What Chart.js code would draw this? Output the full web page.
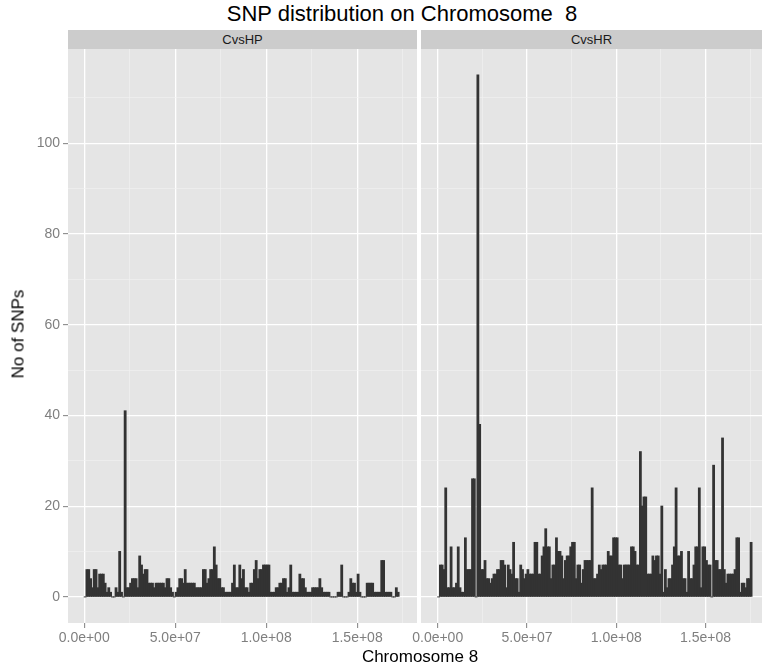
<!DOCTYPE html>
<html>
<head>
<meta charset="utf-8">
<script src="https://cdn.jsdelivr.net/npm/chart.js@4.4.1/dist/chart.umd.min.js"></script>
<style>
body { margin: 0; background: #fff; }
#page { position: relative; width: 762px; height: 672px; overflow: hidden; font-family: "Liberation Sans", Arial, sans-serif; }
#page canvas { position: absolute; left: 0; top: 0; }
.lbl { position: absolute; white-space: pre; color: #000; }
#title { left: 0; width: 804px; top: 2px; font-size: 22px; line-height: 24px; text-align: center; }
.strip { position: absolute; top: 30px; height: 19px; background: #cccccc; font-size: 13px; line-height: 19px; text-align: center; color: #1a1a1a; }
#xtitle { left: 0; width: 840px; top: 647px; font-size: 17px; line-height: 19px; text-align: center; }
#ytitle { left: 18px; top: 334px; font-size: 17px; line-height: 19px; transform: translate(-50%, -50%) rotate(-90deg); }
</style>
</head>
<body>
<div id="page">
  <div id="title" class="lbl">SNP distribution on Chromosome  8</div>
  <div class="strip" style="left:68px; width:349px;">CvsHP</div>
  <div class="strip" style="left:421px; width:341px;">CvsHR</div>
  <canvas id="hp" width="762" height="672"></canvas>
  <canvas id="hr" width="762" height="672"></canvas>
  <div id="xtitle" class="lbl">Chromosome 8</div>
  <div id="ytitle" class="lbl">No of SNPs</div>
</div>
<script>
// SNP counts per 1 Mb bin along chromosome 8
var binWidth = 1e6;

var hpCounts = [0,6,6,4,2,6,6,2,5,5,5,3,1,2,1,0,0,2,1,10,1,0,41,2,2,3,4,4,4,2,
  9,7,5,6,6,3,3,3,2,3,3,3,3,3,2,4,4,2,1,0,1,2,4,4,3,6,3,3,3,3,
  3,2,2,2,2,6,6,3,4,6,6,11,7,4,4,2,2,1,1,1,1,3,7,2,2,7,4,6,2,2,
  1,3,3,6,8,4,6,6,7,7,7,7,1,1,1,2,2,3,3,4,4,1,2,7,1,1,1,1,5,4,
  4,2,1,1,1,2,2,2,2,4,2,1,1,1,1,0,0,0,0,1,1,7,0,0,0,1,4,3,3,1,
  5,1,0,0,0,3,3,3,3,1,1,1,1,8,8,1,1,1,1,0,0,2,1];

var hrCounts = [0,7,7,6,24,2,2,11,2,2,3,11,2,1,1,13,6,6,6,26,26,0,115,38,6,6,8,4,4,3,
  4,5,5,6,6,8,8,7,2,7,6,5,12,4,4,1,7,6,4,5,6,5,5,5,12,12,5,5,9,11,
  15,11,11,4,7,7,13,10,10,9,4,8,9,9,11,12,12,4,7,7,3,6,8,8,8,8,24,4,4,5,
  7,6,7,7,7,10,9,9,13,13,13,7,7,4,7,7,7,7,11,11,10,7,7,32,20,22,22,5,5,5,
  9,8,9,9,5,20,1,6,2,4,4,7,11,24,9,9,10,4,4,1,10,4,4,7,11,11,24,2,11,11,
  8,7,7,0,29,8,8,6,6,35,6,3,5,5,5,5,6,13,13,1,3,3,2,4,4,12];

var xMajor = [0, 5e7, 1e8, 1.5e8];
var xMajorLabels = ['0.0e+00', '5.0e+07', '1.0e+08', '1.5e+08'];
var xMinor = [2.5e7, 7.5e7, 1.25e8, 1.75e8];
var yMajor = [0, 20, 40, 60, 80, 100];
var yMinor = [10, 30, 50, 70, 90, 110];

var axisGrey = '#7f7f7f';
var fontFamily = "'Liberation Sans', Arial, sans-serif";

function toPoints(counts) {
  return counts.map(function (c, i) { return { x: i * binWidth + binWidth / 2, y: c }; });
}

function isIn(list, v) { return list.indexOf(v) !== -1; }

// grey panel background like ggplot
var panelBg = {
  id: 'panelBg',
  beforeDraw: function (chart) {
    var a = chart.chartArea, ctx = chart.ctx;
    ctx.save();
    ctx.fillStyle = '#e5e5e5';
    ctx.fillRect(a.left, a.top, a.right - a.left, a.bottom - a.top);
    ctx.restore();
  }
};

function makePanel(id, counts, o) {
  return new Chart(document.getElementById(id), {
    type: 'bar',
    data: {
      datasets: [{
        data: toPoints(counts),
        backgroundColor: '#333333',
        borderWidth: 0,
        inflateAmount: 0.5,
        barPercentage: 1,
        categoryPercentage: 1
      }]
    },
    options: {
      responsive: false,
      animation: false,
      layout: { padding: { left: o.padLeft, right: o.padRight, top: 49, bottom: 0 } },
      plugins: { legend: { display: false }, tooltip: { enabled: false } },
      scales: {
        x: {
          type: 'linear',
          offset: false,
          min: o.xMin,
          max: o.xMax,
          afterBuildTicks: function (s) {
            s.ticks = xMajor.concat(xMinor).sort(function (a, b) { return a - b; })
              .map(function (v) { return { value: v }; });
          },
          afterFit: function (s) { s.height = 49; },
          border: { display: false },
          grid: {
            offset: false,
            color: function (c) { return c.tick && isIn(xMajor, c.tick.value) ? '#ffffff' : '#f2f2f2'; },
            lineWidth: function (c) { return c.tick && isIn(xMajor, c.tick.value) ? 1.3 : 0.6; },
            tickColor: function (c) { return c.tick && isIn(xMajor, c.tick.value) ? axisGrey : 'rgba(0,0,0,0)'; },
            tickLength: 5,
            tickWidth: 1
          },
          ticks: {
            autoSkip: false,
            maxRotation: 0,
            padding: 2,
            color: axisGrey,
            font: { family: fontFamily, size: 14 },
            callback: function (v) {
              var k = xMajor.indexOf(v);
              return k === -1 ? '' : xMajorLabels[k];
            }
          }
        },
        y: {
          min: -5.75,
          max: 120.75,
          afterBuildTicks: function (s) {
            s.ticks = yMajor.concat(yMinor).sort(function (a, b) { return a - b; })
              .map(function (v) { return { value: v }; });
          },
          afterFit: function (s) { s.width = o.yWidth; },
          border: { display: false },
          grid: {
            color: function (c) { return c.tick && isIn(yMajor, c.tick.value) ? '#ffffff' : '#f2f2f2'; },
            lineWidth: function (c) { return c.tick && isIn(yMajor, c.tick.value) ? 1.3 : 0.6; },
            tickColor: function (c) { return c.tick && isIn(yMajor, c.tick.value) ? axisGrey : 'rgba(0,0,0,0)'; },
            drawTicks: o.showY,
            tickLength: 5,
            tickWidth: 1
          },
          ticks: {
            display: o.showY,
            padding: 3,
            color: axisGrey,
            font: { family: fontFamily, size: 14 },
            callback: function (v) { return isIn(yMajor, v) ? String(v) : ''; }
          }
        }
      }
    },
    plugins: [panelBg]
  });
}

makePanel('hp', hpCounts, { padLeft: 0, padRight: 345, yWidth: 68, showY: true, xMin: -8.9e6, xMax: 1.8286e8 });
makePanel('hr', hrCounts, { padLeft: 421, padRight: 0, yWidth: 0, showY: false, xMin: -9.35e6, xMax: 1.816e8 });
</script>
</body>
</html>
